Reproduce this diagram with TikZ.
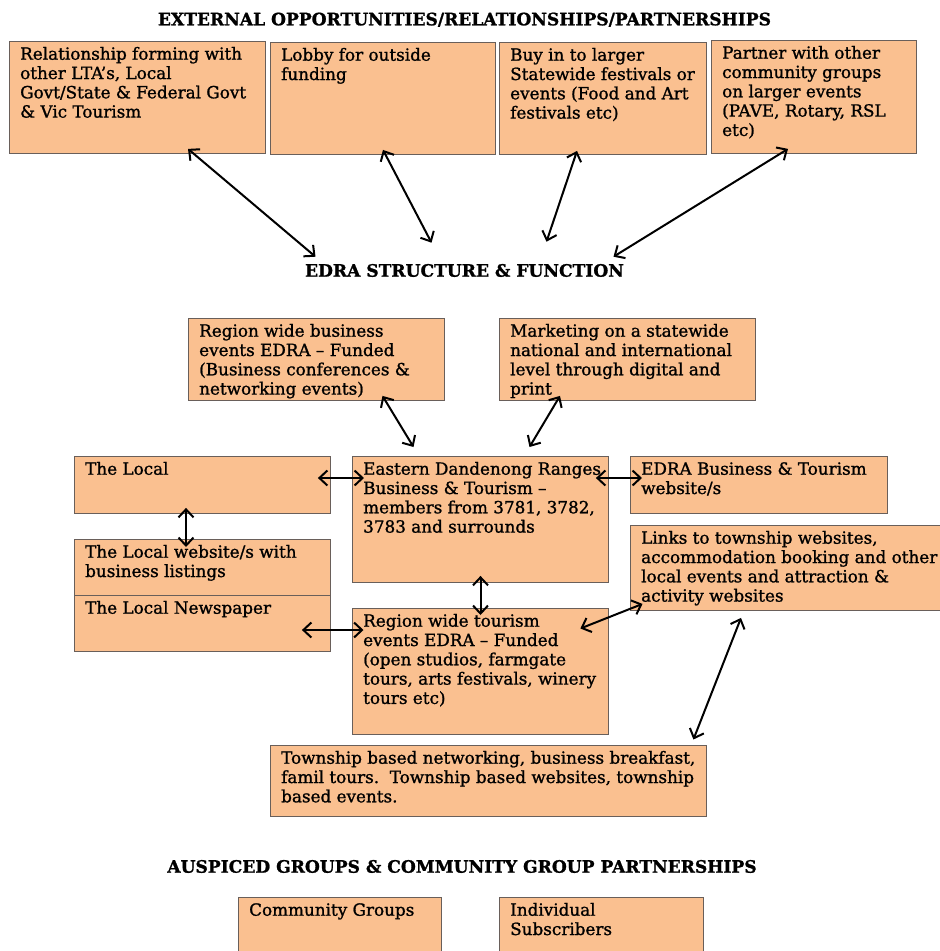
\documentclass[tikz,border=0pt]{standalone}
\usepackage{fontspec}
\setmainfont[FakeBold=1.2,BoldFeatures={FakeBold=1.2}]{DejaVu Serif}
\usetikzlibrary{arrows.meta}

\definecolor{boxfill}{RGB}{250,192,144}
\definecolor{boxline}{RGB}{105,95,90}

\tikzset{
  box/.style={draw=boxline, fill=boxfill, line width=0.9pt, anchor=north west, inner sep=0pt},
  txt/.style={anchor=north west, align=left, inner xsep=11pt, inner ysep=5pt,
    font=\fontsize{16.8}{19.3}\selectfont},
  heading/.style={anchor=base, font=\fontsize{17.1}{19.3}\selectfont\bfseries},
  link/.style={{Straight Barb[length=8pt,width=15pt]}-{Straight Barb[length=8pt,width=15pt]}, line width=2pt},
}

\begin{document}
\begin{tikzpicture}[x=1pt,y=-1pt]
\clip (0,0) rectangle (940,951);

% headings
\node[heading] (external) at (464.5,25.3) {EXTERNAL OPPORTUNITIES/RELATIONSHIPS/PARTNERSHIPS};
\node[heading] (structure) at (464.5,276.7) {EDRA STRUCTURE \& FUNCTION};
\node[heading] (auspiced) at (462,872.7) {AUSPICED GROUPS \& COMMUNITY GROUP PARTNERSHIPS};

% outside partners
\node[box, minimum width=256pt, minimum height=112pt,
  label={[txt, name=ltas-t]north west:\strut Relationship forming with\\other LTA’s, Local\\Govt/State \& Federal Govt\\\& Vic Tourism}] (ltas) at (9,41) {};
\node[box, minimum width=225pt, minimum height=112pt,
  label={[txt, name=lobby-t]north west:\strut Lobby for outside\\funding}] (lobby) at (270,42) {};
\node[box, minimum width=207pt, minimum height=112pt,
  label={[txt, name=buyin-t]north west:\strut Buy in to larger\\Statewide festivals or\\events (Food and Art\\festivals etc)}] (buyin) at (499,42) {};
\node[box, minimum width=205pt, minimum height=113pt,
  label={[txt, name=partner-t]north west:\strut Partner with other\\community groups\\on larger events\\(PAVE, Rotary, RSL\\etc)}] (partner) at (711,40) {};

% EDRA core
\node[box, minimum width=256pt, minimum height=82pt,
  label={[txt, name=bizev-t]north west:\strut Region wide business\\events EDRA -- Funded\\(Business conferences \&\\networking events)}] (bizev) at (188,318) {};
\node[box, minimum width=256pt, minimum height=82pt,
  label={[txt, name=market-t]north west:\strut Marketing on a statewide\\national and international\\level through digital and\\print}] (market) at (499,318) {};
\node[box, minimum width=256pt, minimum height=57pt,
  label={[txt, name=local-t]north west:\strut The Local}] (local) at (74,456) {};
\node[box, minimum width=256pt, minimum height=126pt,
  label={[txt, name=edra-t]north west:\strut Eastern Dandenong Ranges\\Business \& Tourism --\\members from 3781, 3782,\\3783 and surrounds}] (edra) at (352,456) {};
\node[box, minimum width=257pt, minimum height=57pt,
  label={[txt, name=website-t]north west:\strut EDRA Business \& Tourism\\website/s}] (website) at (630,456) {};
\node[box, minimum width=330pt, minimum height=85pt,
  label={[txt, name=links-t]north west:\strut Links to township websites,\\accommodation booking and other\\local events and attraction \&\\activity websites}] (links) at (630,525) {};
\node[box, minimum width=256pt, minimum height=56pt,
  label={[txt, name=localweb-t]north west:\strut The Local website/s with\\business listings}] (localweb) at (74,539) {};
\node[box, minimum width=256pt, minimum height=56pt,
  label={[txt, name=paper-t]north west:\strut The Local Newspaper}] (paper) at (74,595) {};
\node[box, minimum width=256pt, minimum height=126pt,
  label={[txt, name=tourism-t]north west:\strut Region wide tourism\\events EDRA -- Funded\\(open studios, farmgate\\tours, arts festivals, winery\\tours etc)}] (tourism) at (352,608) {};
\node[box, minimum width=436pt, minimum height=71pt,
  label={[txt, name=township-t]north west:\strut Township based networking, business breakfast,\\famil tours.\ \ Township based websites, township\\based events.}] (township) at (270,745) {};

% auspiced groups
\node[box, minimum width=203pt, minimum height=80pt,
  label={[txt, name=community-t]north west:\strut Community Groups}] (community) at (238,897) {};
\node[box, minimum width=204pt, minimum height=80pt,
  label={[txt, name=subscribers-t]north west:\strut Individual\\Subscribers}] (subscribers) at (499,897) {};

% links
\draw[link] ([xshift=179pt,yshift=5pt]ltas.south west) -- ([xshift=-149pt,yshift=20pt]structure.base);
\draw[link] ([xshift=113pt,yshift=5pt]lobby.south west) -- ([xshift=-33pt,yshift=34pt]structure.base);
\draw[link] ([xshift=78pt,yshift=4pt]buyin.south west) -- ([xshift=82pt,yshift=35pt]structure.base);
\draw[link] ([xshift=77pt,yshift=5pt]partner.south west) -- ([xshift=149pt,yshift=20pt]structure.base);

\draw[link] ([xshift=194.5pt,yshift=5pt]bizev.south west) -- ([xshift=61.5pt,yshift=9pt]edra.north west);
\draw[link] ([xshift=61pt,yshift=5pt]market.south west) -- ([xshift=177.5pt,yshift=9pt]edra.north west);
\draw[link] ([xshift=-13pt,yshift=-22pt]local.north east) -- ([xshift=12pt,yshift=-22pt]edra.north west);
\draw[link] ([xshift=-13pt,yshift=-22pt]edra.north east) -- ([xshift=12pt,yshift=-22pt]website.north west);
\draw[link] ([xshift=112pt,yshift=6pt]local.south west) -- ([xshift=112pt,yshift=-8pt]localweb.north west);
\draw[link] ([xshift=128.5pt,yshift=7pt]edra.south west) -- ([xshift=128.5pt,yshift=-7pt]tourism.north west);
\draw[link] ([xshift=-29pt,yshift=-35pt]paper.north east) -- ([xshift=11.5pt,yshift=-22pt]tourism.north west);
\draw[link] ([xshift=-28.5pt,yshift=-20.5pt]tourism.north east) -- ([xshift=12.5pt,yshift=7pt]links.south west);
\draw[link] ([xshift=111pt,yshift=-7pt]links.south west) -- ([xshift=-13.5pt,yshift=5.5pt]township.north east);

\end{tikzpicture}
\end{document}
